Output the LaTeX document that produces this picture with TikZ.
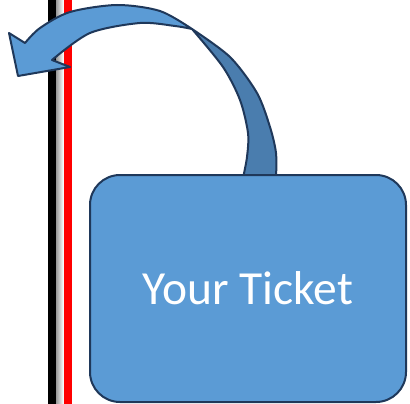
\documentclass[tikz,border=0pt]{standalone}
\usepackage{fontspec}
\setmainfont{Carlito}
\usepackage{tikz}
\usetikzlibrary{positioning}
\definecolor{cFront}{RGB}{91,155,213}
\definecolor{cBack}{RGB}{74,125,174}
\definecolor{cEdge}{RGB}{31,56,90}
\definecolor{cRed}{RGB}{255,0,0}
\tikzset{
	ticketbox/.style={rectangle, rounded corners=30pt, minimum width=316pt, minimum height=227pt, draw=cEdge, line width=2pt, fill=cFront, text=white, font=\fontsize{47.5}{57}\selectfont},
	arrowpart/.style={draw=cEdge, line width=2pt, line join=round},
	% stripe helper
	stripe/.style={line width=0pt},
}
\begin{document}
\begin{tikzpicture}[x=1pt, y=-1pt]
	\useasboundingbox (0,0) rectangle (410,404);
	% the three stripes on the left
	\fill[black, stripe] (48,0) rectangle (56,404);
	\shade[left color=black!40, right color=white, stripe] (56,0) rectangle (63.5,404);
	\fill[cRed, stripe] (64,0) rectangle (72,404);
	% curved arrow, back side first
	\filldraw[arrowpart, fill=cBack]
		plot[smooth] coordinates {(243,178) (247,157) (248,133) (240,100) (223,67) (192,29)}
		-- plot[smooth] coordinates {(192,29) (230,57) (257,93) (270,127) (276,153) (276,178)} -- cycle;
	\filldraw[arrowpart, fill=cFront]
		plot[smooth] coordinates {(192,29) (160,11) (117,5) (70,12) (40,28) (25,43)}
		-- (9,33) -- (18,76) -- (70,67) -- (52,60)
		-- plot[smooth] coordinates {(52,60) (90,33) (140,23) (175,26) (192,29)} -- cycle;
	\node[ticketbox] (ticket) at (248,288.5) {Your Ticket};
\end{tikzpicture}
\end{document}
